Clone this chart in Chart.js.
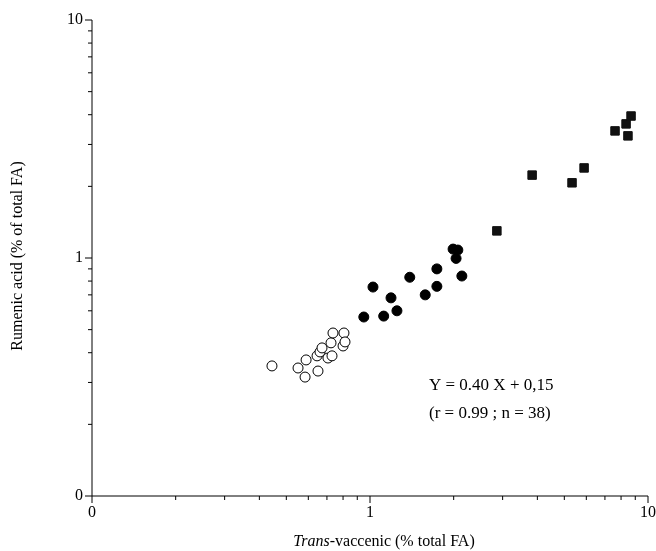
<!DOCTYPE html>
<html><head><meta charset="utf-8">
<script src="https://cdn.jsdelivr.net/npm/chart.js@4/dist/chart.umd.min.js"></script>
<style>body{margin:0;background:#fff}#wrap{width:656px;height:551px}</style>
</head><body><div id="wrap"><canvas id="c"></canvas></div>
<script>
// open circles (low group)
const openX = [0.444,0.551,0.584,0.589,0.645,0.650,0.661,0.672,0.706,0.724,0.730,0.736,0.800,0.806,0.813];
const openY = [0.352,0.345,0.316,0.373,0.388,0.335,0.403,0.419,0.380,0.440,0.388,0.484,0.427,0.484,0.444];
// filled circles (mid group)
const fillX = [0.95,1.025,1.12,1.19,1.25,1.39,1.58,1.74,1.74,1.99,2.04,2.07,2.14];
const fillY = [0.565,0.755,0.57,0.68,0.60,0.83,0.70,0.76,0.90,1.09,0.996,1.08,0.84];
// squares (high group)
const sqX = [2.86,3.83,5.33,5.89,7.61,8.34,8.69,8.47];
const sqY = [1.30,2.23,2.07,2.39,3.42,3.66,3.95,3.26];
const tickLabels = {0.1: '0', 1: '1', 10: '10'};

const pts = (xs, ys) => xs.map((x, i) => ({x: x, y: ys[i]}));
const serif = '"Liberation Serif", "DejaVu Serif", serif';

// draws axis lines, ticks, labels and texts like the printed figure
const axesPlugin = {
    id: 'axesPlugin',
    afterDraw(chart) {
        const g = chart.ctx, a = chart.chartArea;
        const xs = chart.scales.x, ys = chart.scales.y;
        g.save();
        g.strokeStyle = '#000';
        g.lineWidth = 1;
        g.beginPath();
        g.moveTo(a.left, a.top); g.lineTo(a.left, a.bottom); g.lineTo(a.right, a.bottom);
        g.stroke();
        g.fillStyle = '#000';
        g.font = '16px ' + serif;
        for (let d = 0.1; d < 11; d *= 10) {
            for (let m = 1; m <= 9; m++) {
                const v = +(d * m).toPrecision(3);
                if (v > 10) break;
                const major = m === 1;
                const len = major ? 7 : 4;
                const px = xs.getPixelForValue(v);
                const py = ys.getPixelForValue(v);
                g.beginPath();
                g.moveTo(px, a.bottom); g.lineTo(px, a.bottom + len);
                g.moveTo(a.left, py); g.lineTo(a.left - len, py);
                g.stroke();
                if (major) {
                    g.textAlign = 'center'; g.textBaseline = 'top';
                    g.fillText(tickLabels[v], px, a.bottom + 9);
                    g.textAlign = 'right'; g.textBaseline = 'middle';
                    g.fillText(tickLabels[v], a.left - 9, py);
                }
            }
        }
        // x title with italic part
        g.textBaseline = 'alphabetic';
        g.textAlign = 'left';
        const it = 'Trans', rest = '-vaccenic (% total FA)';
        g.font = 'italic 16px ' + serif;
        const w1 = g.measureText(it).width;
        g.font = '16px ' + serif;
        const w2 = g.measureText(rest).width;
        const x0 = (a.left + a.right) / 2 - (w1 + w2) / 2 + 14;
        g.font = 'italic 16px ' + serif;
        g.fillText(it, x0, 546);
        g.font = '16px ' + serif;
        g.fillText(rest, x0 + w1, 546);
        // y title
        g.save();
        g.translate(22, (a.top + a.bottom) / 2 - 2);
        g.rotate(-Math.PI / 2);
        g.textAlign = 'center';
        g.fillText('Rumenic acid (% of total FA)', 0, 0);
        g.restore();
        // equation
        g.font = '17px ' + serif;
        g.textAlign = 'left';
        g.fillText('Y = 0.40 X + 0,15', 429, 390);
        g.fillText('(r = 0.99 ; n = 38)', 429, 418);
        g.restore();
    }
};

new Chart(document.getElementById('c'), {
    type: 'scatter',
    data: {
        datasets: [
            {data: pts(openX, openY), pointStyle: 'circle', pointRadius: 5, backgroundColor: '#fff', borderColor: '#000', borderWidth: 1},
            {data: pts(fillX, fillY), pointStyle: 'circle', pointRadius: 5, backgroundColor: '#000', borderColor: '#000', borderWidth: 1},
            {data: pts(sqX, sqY), pointStyle: 'rect', pointRadius: 6, backgroundColor: '#111', borderColor: '#111', borderWidth: 1}
        ]
    },
    options: {
        responsive: true,
        maintainAspectRatio: false,
        animation: false,
        layout: {padding: {left: 92, right: 8, top: 20, bottom: 55}},
        plugins: {legend: {display: false}, tooltip: {enabled: false}},
        scales: {
            x: {type: 'logarithmic', min: 0.1, max: 10, display: false},
            y: {type: 'logarithmic', min: 0.1, max: 10, display: false}
        }
    },
    plugins: [axesPlugin]
});
</script>
</body></html>
